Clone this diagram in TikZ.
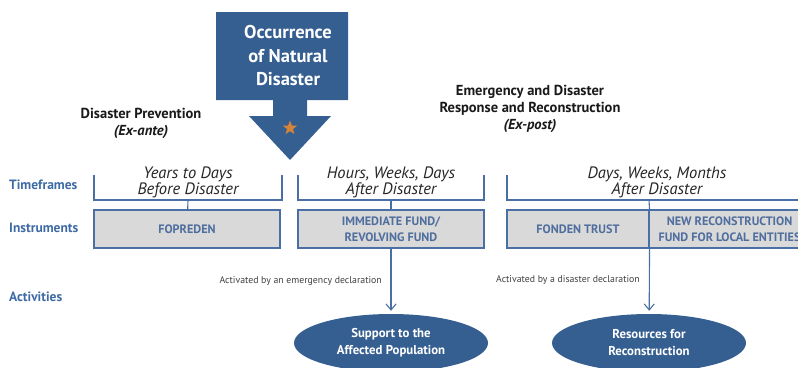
\documentclass[tikz,border=0pt]{standalone}
\usepackage{fontspec}
\setmainfont{PT Sans}
\usepackage{xcolor}
\usepackage{tikz}
\usetikzlibrary{arrows.meta,positioning,shapes,calc}

\definecolor{navy}{HTML}{365F91}
\definecolor{lineblue}{HTML}{4A6FA5}
\definecolor{labelblue}{HTML}{3E6BA5}
\definecolor{boxgray}{HTML}{D9D9D9}
\definecolor{boxtext}{HTML}{4F6E9E}
\definecolor{starorange}{HTML}{D7833A}

\begin{document}
\begin{tikzpicture}[x=1pt,y=-1pt,
  heading/.style={font=\bfseries\fontsize{14.5}{17}\selectfont, align=center, text=black!90},
  rowlabel/.style={font=\bfseries\fontsize{13.5}{15}\selectfont, text=labelblue, anchor=west, inner sep=0pt},
  period/.style={font=\itshape\fontsize{16.5}{16}\selectfont, align=center, text=black!85},
  bracket/.style={draw=lineblue, line width=1.1pt},
  instbox/.style={draw=lineblue, fill=boxgray, line width=1.1pt, minimum height=38pt, inner sep=0pt,
    font=\bfseries\fontsize{12.2}{15.5}\selectfont, text=boxtext, align=center},
  activity/.style={ellipse, fill=navy, text=white, inner sep=0pt, align=center,
    font=\bfseries\fontsize{12.8}{17}\selectfont, minimum width=194pt, minimum height=58pt},
  note/.style={font=\fontsize{9.8}{11}\selectfont, text=black!75, anchor=east, inner sep=0pt},
  arrow/.style={draw=lineblue, line width=1.1pt, -{Straight Barb[length=6pt,width=10pt]}, shorten >=3pt}
]
\useasboundingbox (0,0) rectangle (798,367);
\clip (0,0) rectangle (798,367);

% Occurrence arrow
\fill[navy] (216,12) -- (348,12) -- (348,100) -- (307,100) -- (307,116) -- (331,116)
  -- (290,160) -- (249,116) -- (273,116) -- (273,100) -- (216,100) -- cycle;
\node[font=\bfseries\fontsize{18.5}{23.5}\selectfont, text=white, align=center] (occur) at (288,56)
  {Occurrence\\of Natural\\Disaster};
\node[star, star points=5, star point ratio=2.4, fill=starorange, minimum size=15pt, inner sep=0pt] (star) at (290,128) {};

% Phase headings
\node[heading] (prev) at (141,123) {Disaster Prevention\\\textit{(Ex-ante)}};
\node[heading] (resp) at (530,109) {Emergency and Disaster\\Response and Reconstruction\\\textit{(Ex-post)}};

% Row labels
\node[rowlabel] (tf) at (9,185) {Timeframes};
\node[rowlabel] (inst) at (9,228) {Instruments};
\node[rowlabel] (act) at (9,297) {Activities};

% Timeframe brackets
\draw[bracket] (94,175) -- (94,200) -- (282,200) -- (282,175);
\draw[bracket] (298,175) -- (298,200) -- (484,200) -- (484,175);
\draw[bracket] (507,175) -- (507,200) -- (800,200);
\coordinate (b1) at (188,200);
\coordinate (b2) at (391,200);
\coordinate (b3) at (649,200);
\node[period] (yrs) at (188,182) {Years to Days\\Before Disaster};
\node[period] (hrs) at (391,182) {Hours, Weeks, Days\\After Disaster};
\node[period] (dys) at (657,182) {Days, Weeks, Months\\After Disaster};

% Instruments
\node[instbox, minimum width=186pt] (fopreden) at (187,229) {FOPREDEN};
\node[instbox, minimum width=186pt] (immed) at (391,229) {IMMEDIATE FUND/\\REVOLVING FUND};
\node[instbox, minimum width=142pt] (fonden) at (578,229) {FONDEN TRUST};
\node[instbox, minimum width=160pt, anchor=west] (newfund) at (649,229) {NEW RECONSTRUCTION\\FUND FOR LOCAL ENTITIES};
\draw[bracket] (b1) -- (fopreden);
\draw[bracket] (b2) -- (immed);
\draw[bracket] (b3) -- (fonden.north east);

% Activities
\node[activity] (support) at (391,343) {Support to the\\Affected Population};
\node[activity] (recon) at (649,343) {Resources for\\Reconstruction};
\draw[arrow] (immed) -- (support);
\draw[arrow] (fonden.south east) -- (recon);
\node[note] (emerg) at (382,281) {Activated by an emergency declaration};
\node[note] (decl) at (640,280) {Activated by a disaster declaration};

\end{tikzpicture}
\end{document}
